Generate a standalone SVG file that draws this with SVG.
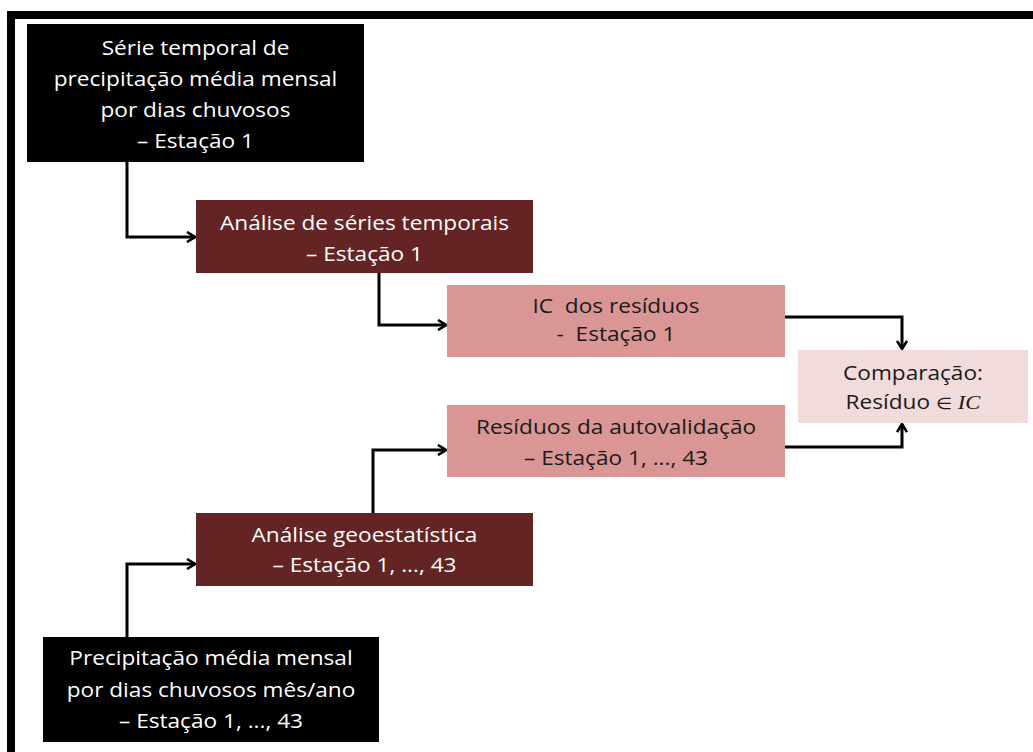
<svg xmlns="http://www.w3.org/2000/svg" width="1033" height="752" viewBox="0 0 1033 752">
<defs>
<style>
.t{font-family:"Open Sans","Liberation Sans",sans-serif;font-size:19.5px;text-anchor:middle}
.w{fill:#ffffff}
.d{fill:#1a1a1a}
.conn path{fill:none;stroke:#000;stroke-width:3;marker-end:url(#ah)}
.m{font-family:"Liberation Serif","DejaVu Serif",serif;font-style:italic}
.e{font-size:16px}
</style>
<marker id="ah" viewBox="0 0 10 12" refX="9" refY="6" markerWidth="10" markerHeight="12" markerUnits="userSpaceOnUse" orient="auto">
<path d="M1,1 L9,6 L1,11" fill="none" stroke="#000" stroke-width="2.6"/>
</marker>
</defs>
<rect width="1033" height="752" fill="#ffffff"/>
<g id="frame">
<rect x="7" y="11" width="1026" height="8" fill="#000"/>
<rect x="7" y="11" width="8" height="741" fill="#000"/>
</g>
<g class="conn" id="connectors">
<path d="M127,162 V237 H195"/>
<path d="M379,273 V325 H446"/>
<path d="M785,317 H902 V349"/>
<path d="M785,447 H902 V424"/>
<path d="M373,513 V450 H446"/>
<path d="M127,637 V564 H195"/>
</g>
<g id="n1">
<rect x="27" y="24" width="337" height="138" fill="#000"/>
<g transform="translate(195.5,0) scale(1.16,1)">
<text class="t w" x="0" y="55">Série temporal de</text>
<text class="t w" x="0" y="86">precipitação média mensal</text>
<text class="t w" x="0" y="117">por dias chuvosos</text>
<text class="t w" x="0" y="148">– Estação 1</text>
</g>
</g>
<g id="n2">
<rect x="196" y="200" width="337" height="73" fill="#632423"/>
<g transform="translate(364.5,0) scale(1.16,1)">
<text class="t w" x="0" y="230">Análise de séries temporais</text>
<text class="t w" x="0" y="261">– Estação 1</text>
</g>
</g>
<g id="n3">
<rect x="447" y="285" width="338" height="72" fill="#D99694"/>
<g transform="translate(616,0) scale(1.16,1)">
<text class="t d" x="0" y="313" xml:space="preserve">IC  dos resíduos</text>
<text class="t d" x="0" y="341" xml:space="preserve">-  Estação 1</text>
</g>
</g>
<g id="n4">
<rect x="798" y="350" width="230" height="73" fill="#F2DCDB"/>
<g transform="translate(913,0) scale(1.16,1)">
<text class="t d" x="0" y="380">Comparação:</text>
<text class="t d" x="0" y="409">Resíduo <tspan class="e">∈</tspan> <tspan class="m">IC</tspan></text>
</g>
</g>
<g id="n5">
<rect x="447" y="405" width="338" height="72" fill="#D99694"/>
<g transform="translate(616,0) scale(1.16,1)">
<text class="t d" x="0" y="434">Resíduos da autovalidação</text>
<text class="t d" x="0" y="465">– Estação 1, ..., 43</text>
</g>
</g>
<g id="n6">
<rect x="196" y="513" width="337" height="73" fill="#632423"/>
<g transform="translate(364.5,0) scale(1.16,1)">
<text class="t w" x="0" y="542">Análise geoestatística</text>
<text class="t w" x="0" y="572">– Estação 1, ..., 43</text>
</g>
</g>
<g id="n7">
<rect x="43" y="637" width="336" height="105" fill="#000"/>
<g transform="translate(211,0) scale(1.16,1)">
<text class="t w" x="0" y="665">Precipitação média mensal</text>
<text class="t w" x="0" y="697">por dias chuvosos mês/ano</text>
<text class="t w" x="0" y="728">– Estação 1, ..., 43</text>
</g>
</g>
</svg>
